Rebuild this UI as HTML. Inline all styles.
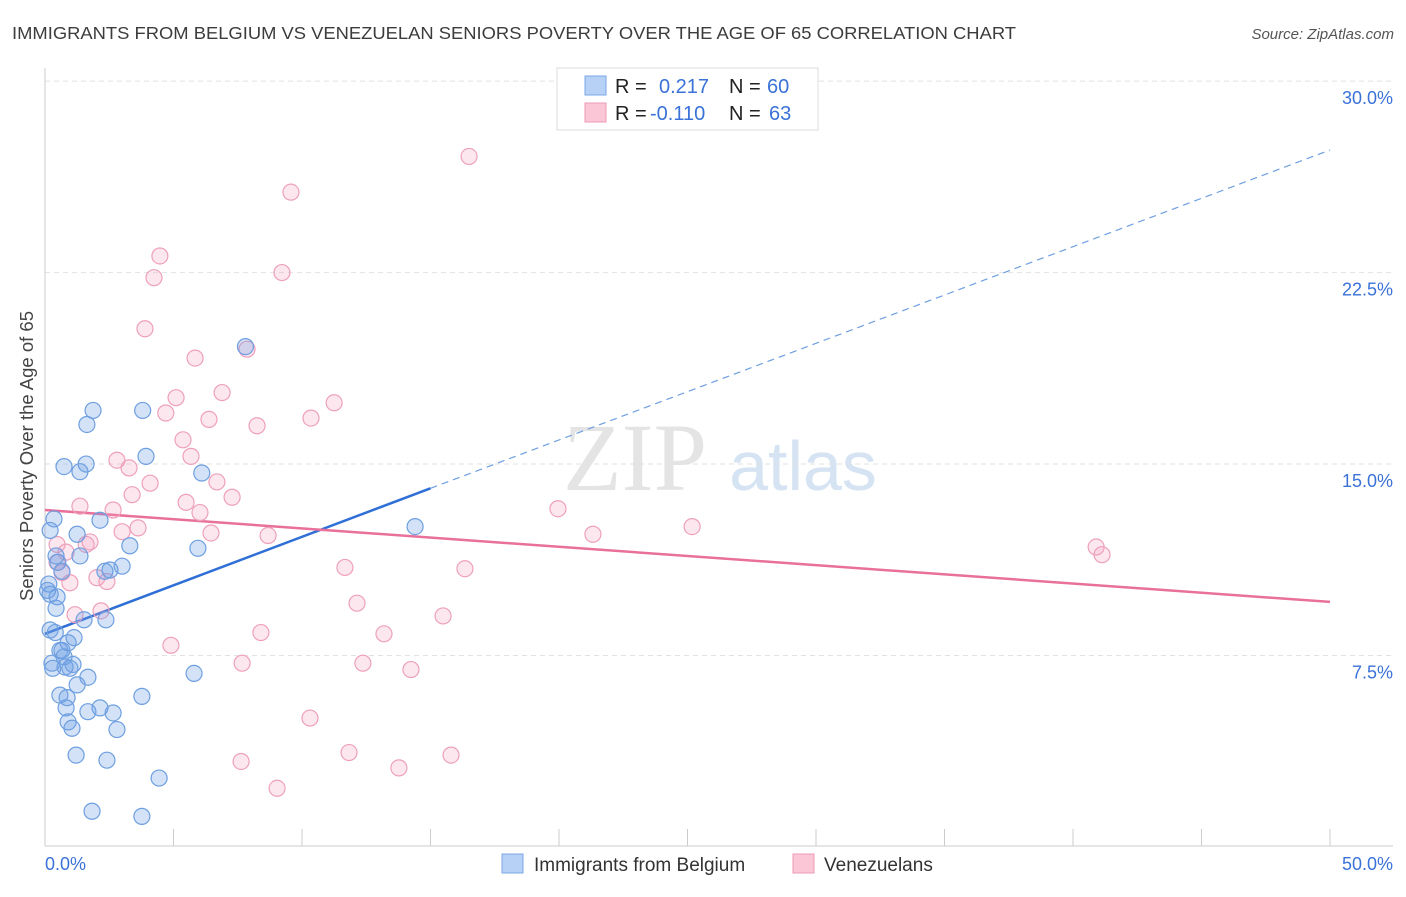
<!DOCTYPE html>
<html><head><meta charset="utf-8"><style>
body{margin:0;background:#fff;font-family:"Liberation Sans",sans-serif}
svg text{font-family:"Liberation Sans",sans-serif}
</style></head><body>
<svg id="c" width="1406" height="892">
<text x="12" y="39" font-size="17.5" fill="#3c3c3c" textLength="1004" lengthAdjust="spacingAndGlyphs">IMMIGRANTS FROM BELGIUM VS VENEZUELAN SENIORS POVERTY OVER THE AGE OF 65 CORRELATION CHART</text>
<text x="1394" y="39" font-size="15" fill="#555" font-style="italic" text-anchor="end">Source: ZipAtlas.com</text>
<text transform="translate(33,456) rotate(-90)" font-size="18.5" fill="#444" text-anchor="middle">Seniors Poverty Over the Age of 65</text>
<g><text x="635" y="490" font-size="96" fill="#e4e4e4" font-family="Liberation Serif" text-anchor="middle" style="font-family:'Liberation Serif',serif">ZIP</text><text x="803" y="490" font-size="70" fill="#d5e3f3" text-anchor="middle">atlas</text></g>
<g id="grid"></g><g id="axes"></g><g id="trend"></g><g id="pts"></g>
<g>
<rect x="557" y="68" width="261" height="62" fill="#fff" stroke="#ddd"/>
<rect x="585" y="76" width="21" height="19" fill="#b7d0f5" stroke="#7aa7e6"/>
<rect x="585" y="103" width="21" height="19" fill="#fbc7d6" stroke="#ee9ab6"/>
<text x="615" y="93" font-size="20" fill="#222">R = </text><text x="659" y="93" font-size="20" fill="#3a72d8">0.217</text>
<text x="729" y="93" font-size="20" fill="#222">N = </text><text x="767" y="93" font-size="20" fill="#3a72d8">60</text>
<text x="615" y="120" font-size="20" fill="#222">R = </text><text x="650" y="120" font-size="20" fill="#3a72d8">-0.110</text>
<text x="729" y="120" font-size="20" fill="#222">N = </text><text x="769" y="120" font-size="20" fill="#3a72d8">63</text>
</g>
<g>
<rect x="502" y="854" width="21" height="19" fill="#b7d0f5" stroke="#7aa7e6"/>
<text x="534" y="871" font-size="19" fill="#333">Immigrants from Belgium</text>
<rect x="793" y="854" width="21" height="19" fill="#fbc7d6" stroke="#ee9ab6"/>
<text x="824" y="871" font-size="19" fill="#333">Venezuelans</text>
</g>
</svg>
<script>
const yTicks=[7.5,15,22.5,30];
const yTickLabels=["7.5%","15.0%","22.5%","30.0%"];
const xTickLabels=["0.0%","50.0%"];
const blueX=[0.35,0.2,0.43,0.15,0.2,0.47,0.43,0.2,0.27,0.3,0.58,0.74,0.78,0.97,1.09,0.9,1.13,0.58,0.86,0.82,0.9,1.05,1.25,1.67,1.67,2.14,2.65,2.8,1.21,2.41,1.83,3.77,4.44,3.77,5.8,1.52,2.37,1.36,1.25,2.14,2.33,2.53,3.0,3.3,5.95,0.74,1.36,1.6,1.63,1.87,3.8,3.93,6.1,7.8,14.4,0.66,0.5,0.1,0.4,0.66];
const blueY=[12.85,12.4,11.4,10.3,9.9,9.8,9.35,8.5,7.2,7.0,7.7,7.45,7.05,7.0,7.15,8.0,8.2,5.95,5.85,5.45,4.9,4.65,6.35,6.65,5.3,5.45,5.25,4.6,3.6,3.4,1.4,1.2,2.7,5.9,6.8,8.9,8.9,11.4,12.25,12.8,10.8,10.85,11.0,11.8,11.7,14.9,14.7,15.0,16.55,17.1,17.1,15.3,14.65,19.6,12.55,10.8,11.15,10.05,8.4,7.7];
const pinkX=[16.5,9.57,4.47,4.24,9.22,3.89,7.86,5.84,6.89,5.1,4.7,11.25,6.38,8.25,10.35,5.37,5.68,2.8,3.27,4.09,6.69,3.39,7.28,5.49,6.03,1.36,2.65,3.62,3.0,6.46,8.68,0.47,1.75,1.6,0.82,0.47,0.66,0.97,2.02,2.41,11.67,16.34,12.14,1.17,2.18,15.49,13.19,8.4,4.9,7.67,12.37,14.24,10.31,11.83,7.63,15.8,13.77,9.03,19.96,21.32,25.18,40.9,41.13];
const pinkY=[27.05,25.65,23.15,22.3,22.5,20.3,19.5,19.15,17.8,17.6,17.0,17.4,16.75,16.5,16.8,15.95,15.3,15.15,14.85,14.25,14.3,13.8,13.7,13.5,13.1,13.35,13.2,12.5,12.35,12.3,12.2,11.85,11.95,11.85,11.55,11.15,10.75,10.35,10.55,10.4,10.95,10.9,9.55,9.1,9.25,9.05,8.35,8.4,7.9,7.2,7.2,6.95,5.05,3.7,3.35,3.6,3.1,2.3,13.25,12.25,12.55,11.75,11.45];
const blueTrend=[0,8.35,15,14.05,50,27.3];
const pinkTrend=[0,13.2,50,9.6];
const X=v=>45+v*25.7, Y=v=>847-v*25.53;
const NS="http://www.w3.org/2000/svg";
function mk(p,t,a){const e=document.createElementNS(NS,t);for(const k in a)e.setAttribute(k,a[k]);p.appendChild(e);return e;}
const grid=document.getElementById('grid'),axes=document.getElementById('axes');
yTicks.forEach((t,i)=>{
 const l=mk(grid,'line',{x1:45,x2:1393,y1:Y(t),y2:Y(t),stroke:'#e2e2e2','stroke-dasharray':'5,4'});
 
 
 const tx=mk(grid,'text',{x:1393,y:Y(t)+23,'font-size':18,fill:'#3a72d8','text-anchor':'end'});tx.textContent=yTickLabels[i];
 
 
});
mk(axes,'line',{x1:45,x2:45,y1:68,y2:846,stroke:'#ccc'});
mk(axes,'line',{x1:45,x2:1393,y1:846,y2:846,stroke:'#ccc'});
for(let i=0;i<=10;i++){const t=mk(axes,'line',{x1:X(i*5),x2:X(i*5),y1:829,y2:846,stroke:'#ccc'});
 
 }
const xl0=mk(axes,'text',{x:45,y:870,'font-size':18,fill:'#3a72d8'});xl0.textContent=xTickLabels[0];


const xl1=mk(axes,'text',{x:1393,y:870,'font-size':18,fill:'#3a72d8','text-anchor':'end'});xl1.textContent=xTickLabels[1];


const pts=document.getElementById('pts');
pinkX.forEach((v,i)=>{const c=mk(pts,'circle',{cx:X(v),cy:Y(pinkY[i]),r:8,fill:'rgba(245,160,190,0.25)',stroke:'#eea0bb','stroke-width':1.2});
 
 });
blueX.forEach((v,i)=>{const c=mk(pts,'circle',{cx:X(v),cy:Y(blueY[i]),r:8,fill:'rgba(110,160,230,0.3)',stroke:'#6e9fe0','stroke-width':1.2});
 
 });
const tr=document.getElementById('trend');
const b1=mk(tr,'line',{x1:X(blueTrend[0]),y1:Y(blueTrend[1]),x2:X(blueTrend[2]),y2:Y(blueTrend[3]),stroke:'#2f6fd6','stroke-width':2.5});


const b2=mk(tr,'line',{x1:X(blueTrend[2]),y1:Y(blueTrend[3]),x2:X(blueTrend[4]),y2:Y(blueTrend[5]),stroke:'#6e9fe0','stroke-width':1.2,'stroke-dasharray':'7,5'});


const p1=mk(tr,'line',{x1:X(pinkTrend[0]),y1:Y(pinkTrend[1]),x2:X(pinkTrend[2]),y2:Y(pinkTrend[3]),stroke:'#e8709a','stroke-width':2.5});


</script>
</body></html>
